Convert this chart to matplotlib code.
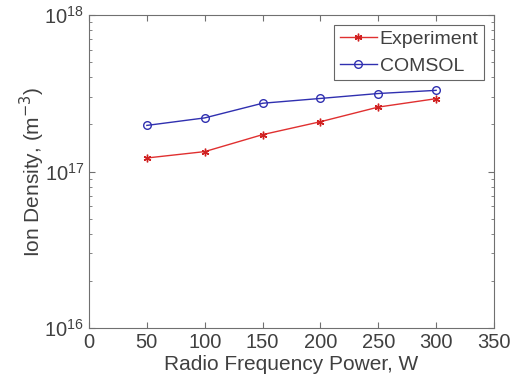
import matplotlib
matplotlib.use("Agg")
import matplotlib.pyplot as plt
from matplotlib.ticker import LogLocator, NullFormatter

power = [50, 100, 150, 200, 250, 300]
experiment = [1.22e17, 1.34e17, 1.72e17, 2.08e17, 2.58e17, 2.92e17]
comsol = [1.97e17, 2.20e17, 2.73e17, 2.93e17, 3.15e17, 3.30e17]
xticks = [0, 50, 100, 150, 200, 250, 300, 350]

plt.rcParams['font.family'] = ['Liberation Sans', 'DejaVu Sans']
fig = plt.figure(figsize=(5.22, 3.89), dpi=100)
ax = fig.add_axes([89/522, 1-328/389, (494-89)/522, (328-15)/389])

ax.plot(power, experiment, color='#e03030', marker=(6, 2, 0), markersize=5.5, lw=1.0,
        markeredgecolor='#d02020', markeredgewidth=1.0, label='Experiment')
ax.plot(power, comsol, color='#3030b0', marker='o', markersize=5.5, lw=1.0,
        markerfacecolor='none', markeredgecolor='#3030b0', markeredgewidth=1.0, label='COMSOL')

ax.set_yscale('log')
ax.set_ylim(1e16, 1e18)
ax.set_xlim(0, 350)
ax.set_xticks(xticks)
ax.yaxis.set_major_locator(LogLocator(base=10, numticks=10))
ax.yaxis.set_minor_locator(LogLocator(base=10, subs=range(2, 10), numticks=20))
ax.yaxis.set_minor_formatter(NullFormatter())

gray = '#404040'
for s in ax.spines.values():
    s.set_color('#707070')
    s.set_linewidth(0.8)
ax.tick_params(which='both', direction='in', top=True, right=True, colors='#707070',
               labelcolor=gray, labelsize=14.5)
ax.tick_params(which='major', length=4)
ax.tick_params(which='minor', length=2.5)

ax.set_xlabel('Radio Frequency Power, W', fontsize=15, color=gray, labelpad=2)
ax.set_ylabel('Ion Density, (m$^{-3}$)', fontsize=15, color=gray, labelpad=-2)

leg = ax.legend(loc='upper right', fontsize=14, frameon=True, fancybox=False,
                edgecolor='#404040', borderaxespad=0.5, handlelength=1.9,
                handletextpad=0.15, borderpad=0.3, labelspacing=0.45, labelcolor=gray)
leg.get_frame().set_linewidth(0.8)

fig.savefig('out.png', dpi=100)
